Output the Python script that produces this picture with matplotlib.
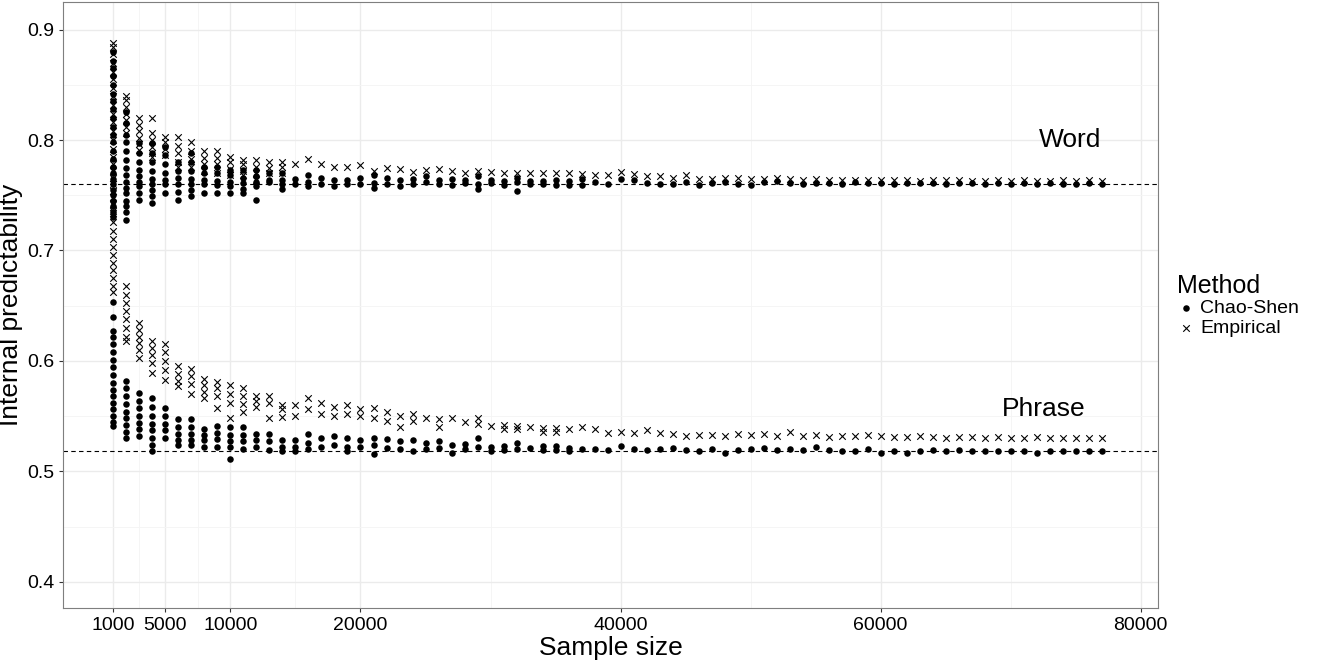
import numpy as np
import matplotlib
matplotlib.use("Agg")
import matplotlib.pyplot as plt

plt.rcParams['font.family'] = ['Liberation Sans', 'DejaVu Sans']

# sample sizes with many replicates (1000 .. 14000)
early_sizes = [1000, 2000, 3000, 4000, 5000, 6000, 7000, 8000, 9000, 10000, 11000, 12000, 13000, 14000]

word_chao_early = [
    [0.880, 0.872, 0.865, 0.858, 0.850, 0.842, 0.835, 0.828, 0.820, 0.812, 0.805, 0.798, 0.790, 0.783,
     0.776, 0.770, 0.765, 0.760, 0.755, 0.750, 0.745, 0.740, 0.735, 0.730],
    [0.825, 0.815, 0.805, 0.798, 0.790, 0.782, 0.775, 0.768, 0.762, 0.757, 0.752, 0.745, 0.740, 0.735, 0.728],
    [0.797, 0.788, 0.780, 0.773, 0.767, 0.762, 0.758, 0.752, 0.746],
    [0.797, 0.788, 0.780, 0.772, 0.765, 0.760, 0.755, 0.749, 0.743],
    [0.794, 0.786, 0.778, 0.770, 0.764, 0.760, 0.752],
    [0.780, 0.772, 0.766, 0.760, 0.753, 0.746],
    [0.788, 0.780, 0.772, 0.765, 0.760, 0.755, 0.749],
    [0.776, 0.770, 0.764, 0.760, 0.752],
    [0.776, 0.770, 0.763, 0.759, 0.752],
    [0.773, 0.768, 0.762, 0.758, 0.752],
    [0.773, 0.766, 0.761, 0.756, 0.752],
    [0.773, 0.767, 0.762, 0.758, 0.746],
    [0.770, 0.764, 0.762],
    [0.770, 0.764, 0.760, 0.756],
]
word_emp_early = [
    [0.888, 0.884, 0.878, 0.870, 0.862, 0.855, 0.847, 0.840, 0.832, 0.824, 0.816, 0.808, 0.800, 0.792,
     0.785, 0.778, 0.772, 0.766, 0.760, 0.754, 0.748, 0.742, 0.736],
    [0.840, 0.836, 0.830, 0.824, 0.818, 0.812, 0.806],
    [0.820, 0.814, 0.808, 0.802, 0.796, 0.791],
    [0.820, 0.806, 0.800, 0.794, 0.788, 0.785],
    [0.803, 0.798, 0.792, 0.786],
    [0.803, 0.795, 0.788, 0.780, 0.776],
    [0.798, 0.790, 0.783, 0.776],
    [0.790, 0.784, 0.778, 0.772],
    [0.790, 0.784, 0.778, 0.770],
    [0.785, 0.780, 0.774, 0.768],
    [0.782, 0.778, 0.772, 0.768],
    [0.782, 0.776, 0.770, 0.764],
    [0.780, 0.775, 0.770],
    [0.780, 0.776, 0.770],
]
phrase_chao_early = [
    [0.653, 0.640, 0.627, 0.622, 0.615, 0.608, 0.601, 0.594, 0.587, 0.580, 0.574, 0.568, 0.562, 0.556,
     0.550, 0.545, 0.541],
    [0.582, 0.575, 0.568, 0.561, 0.554, 0.548, 0.542, 0.536, 0.530],
    [0.571, 0.564, 0.557, 0.550, 0.544, 0.538, 0.532],
    [0.566, 0.558, 0.550, 0.543, 0.537, 0.530, 0.524, 0.518],
    [0.557, 0.550, 0.543, 0.537, 0.530],
    [0.547, 0.540, 0.534, 0.528, 0.524],
    [0.547, 0.540, 0.534, 0.528, 0.524],
    [0.538, 0.533, 0.528, 0.522],
    [0.541, 0.535, 0.529, 0.522],
    [0.540, 0.533, 0.527, 0.522, 0.511],
    [0.540, 0.533, 0.527, 0.520],
    [0.534, 0.528, 0.522],
    [0.534, 0.527, 0.519],
    [0.528, 0.522, 0.518],
]
phrase_emp_early = [
    [0.734, 0.726, 0.718, 0.710, 0.703, 0.696, 0.689, 0.682, 0.675, 0.668, 0.662],
    [0.668, 0.660, 0.652, 0.645, 0.638, 0.630, 0.622, 0.618],
    [0.634, 0.628, 0.622, 0.616, 0.610, 0.603],
    [0.618, 0.612, 0.605, 0.598, 0.589],
    [0.615, 0.608, 0.600, 0.592, 0.583],
    [0.595, 0.588, 0.582, 0.577],
    [0.593, 0.586, 0.579, 0.570],
    [0.584, 0.578, 0.572, 0.566],
    [0.581, 0.575, 0.568, 0.557],
    [0.578, 0.570, 0.562, 0.548],
    [0.575, 0.568, 0.561, 0.554],
    [0.568, 0.564, 0.558],
    [0.568, 0.562, 0.548],
    [0.560, 0.556, 0.549],
]

# later sample sizes (15000 .. 77000), one to three replicates each
late_sizes = list(range(15000, 78000, 1000))
word_chao_late = [
    [0.765, 0.760], [0.768, 0.762, 0.758], [0.766, 0.760], [0.764, 0.758], [0.764, 0.760],
    [0.766, 0.760], [0.768, 0.761, 0.757], [0.766, 0.760], [0.764, 0.758], [0.765, 0.760],
    [0.767, 0.762], [0.764, 0.760], [0.765, 0.759], [0.764, 0.761], [0.767, 0.760, 0.756],
    [0.764, 0.761], [0.763, 0.759], [0.766, 0.762, 0.754], [0.763, 0.760], [0.763, 0.760],
    [0.764, 0.759], [0.763, 0.759], [0.765, 0.759], [0.762], [0.760], [0.765], [0.764],
    [0.761], [0.760], [0.760], [0.762], [0.759], [0.761], [0.762], [0.760], [0.759],
    [0.762], [0.763], [0.761], [0.760], [0.761], [0.761], [0.760], [0.762], [0.761],
    [0.761], [0.760], [0.761], [0.761], [0.761], [0.760], [0.761], [0.761], [0.760],
    [0.761], [0.760], [0.761], [0.760], [0.761], [0.760], [0.760], [0.761], [0.760],
]
word_emp_late = [
    [0.778], [0.783], [0.778], [0.776], [0.776],
    [0.777], [0.772], [0.775], [0.774], [0.771],
    [0.773], [0.774], [0.772], [0.770], [0.772],
    [0.771], [0.770], [0.770], [0.770], [0.770],
    [0.770], [0.770], [0.769], [0.768], [0.768], [0.771], [0.769],
    [0.767], [0.767], [0.766], [0.768], [0.765], [0.765], [0.766], [0.766], [0.765],
    [0.765], [0.766], [0.765], [0.764], [0.765], [0.764], [0.764], [0.764], [0.764],
    [0.764], [0.764], [0.764], [0.763], [0.764], [0.764], [0.764], [0.763], [0.763],
    [0.764], [0.763], [0.764], [0.763], [0.763], [0.764], [0.763], [0.764], [0.763],
]
phrase_chao_late = [
    [0.528, 0.522, 0.518], [0.534, 0.526, 0.520], [0.530, 0.522], [0.532, 0.524], [0.530, 0.522, 0.518],
    [0.528, 0.522], [0.530, 0.524, 0.516], [0.529, 0.521], [0.527, 0.520], [0.528, 0.518],
    [0.526, 0.520], [0.527, 0.521], [0.524, 0.517], [0.525, 0.520], [0.530, 0.522],
    [0.522, 0.518], [0.523, 0.519], [0.526, 0.520], [0.521], [0.523, 0.519],
    [0.523, 0.519], [0.521, 0.518], [0.520], [0.520], [0.519], [0.523], [0.520],
    [0.519], [0.520], [0.521], [0.519], [0.518], [0.520], [0.517], [0.519], [0.520],
    [0.521], [0.519], [0.520], [0.519], [0.522], [0.519], [0.518], [0.518], [0.520],
    [0.517], [0.518], [0.517], [0.518], [0.519], [0.518], [0.519], [0.518], [0.518],
    [0.518], [0.518], [0.518], [0.517], [0.518], [0.518], [0.518], [0.518], [0.518],
]
phrase_emp_late = [
    [0.560, 0.550], [0.566, 0.556], [0.562, 0.552], [0.558, 0.550], [0.560, 0.552],
    [0.556, 0.550], [0.557, 0.548], [0.554, 0.546], [0.550, 0.540], [0.552, 0.546],
    [0.548], [0.547, 0.540], [0.548], [0.545], [0.548, 0.543],
    [0.541], [0.542, 0.538], [0.541, 0.538], [0.540], [0.539, 0.536],
    [0.539, 0.536], [0.538], [0.540], [0.538], [0.535], [0.536], [0.535],
    [0.537], [0.535], [0.534], [0.532], [0.533], [0.533], [0.532], [0.534], [0.533],
    [0.534], [0.532], [0.536], [0.532], [0.533], [0.531], [0.532], [0.532], [0.533],
    [0.532], [0.531], [0.531], [0.532], [0.531], [0.530], [0.531], [0.531], [0.530],
    [0.531], [0.530], [0.530], [0.531], [0.530], [0.530], [0.530], [0.530], [0.530],
]

word_ref = 0.7605
phrase_ref = 0.518


def flatten(sizes, groups):
    xs, ys = [], []
    for n, vals in zip(sizes, groups):
        xs += [n] * len(vals)
        ys += vals
    return xs, ys


def series(early, late):
    x1, y1 = flatten(early_sizes, early)
    x2, y2 = flatten(late_sizes, late)
    return x1 + x2, y1 + y2


fig = plt.figure(figsize=(13.2, 6.64), dpi=100)
ax = fig.add_axes([0.048, 0.084, 0.829, 0.913])

cx1, cy1 = series(word_chao_early, word_chao_late)
cx2, cy2 = series(phrase_chao_early, phrase_chao_late)
ex1, ey1 = series(word_emp_early, word_emp_late)
ex2, ey2 = series(phrase_emp_early, phrase_emp_late)

ax.scatter(cx1 + cx2, cy1 + cy2, s=22, c="black", marker="o", linewidths=0, label="Chao-Shen", zorder=3)
ax.scatter(ex1 + ex2, ey1 + ey2, s=22, c="black", marker="x", linewidths=0.8, label="Empirical", zorder=3)

ax.axhline(word_ref, color="black", ls="--", lw=0.8, dashes=(4, 3), zorder=2)
ax.axhline(phrase_ref, color="black", ls="--", lw=0.8, dashes=(4, 3), zorder=2)

ax.text(74600, 0.800, "Word", fontsize=19, ha="center", va="center")
ax.text(72500, 0.556, "Phrase", fontsize=19, ha="center", va="center")

ax.set_xlim(-2850, 81300)
ax.set_ylim(0.376, 0.925)
ax.set_xticks([1000, 5000, 10000, 20000, 40000, 60000, 80000])
ax.set_xticks([3000, 7500, 15000, 30000, 50000, 70000], minor=True)
ax.set_yticks([0.4, 0.5, 0.6, 0.7, 0.8, 0.9])
ax.set_yticks([0.45, 0.55, 0.65, 0.75, 0.85], minor=True)
ax.grid(True, which="major", color="#ebebeb", lw=1.0, zorder=0)
ax.grid(True, which="minor", color="#f4f4f4", lw=0.6, zorder=0)
ax.set_axisbelow(True)
for s in ax.spines.values():
    s.set_color("#7f7f7f")
    s.set_linewidth(0.8)
ax.tick_params(which="both", length=3, color="#333333", labelsize=14, labelcolor="black")
ax.tick_params(which="minor", length=0)
ax.set_xlabel("Sample size", fontsize=19, labelpad=1)
ax.set_ylabel("Internal predictability", fontsize=19, labelpad=3)

leg = ax.legend(loc="center left", bbox_to_anchor=(1.005, 0.5), frameon=False, title="Method",
                fontsize=14, title_fontsize=18, handletextpad=0.2, borderaxespad=0.3,
                labelspacing=0.1, handlelength=1.0)
leg._legend_box.align = "left"

fig.savefig("out.png", dpi=100)
